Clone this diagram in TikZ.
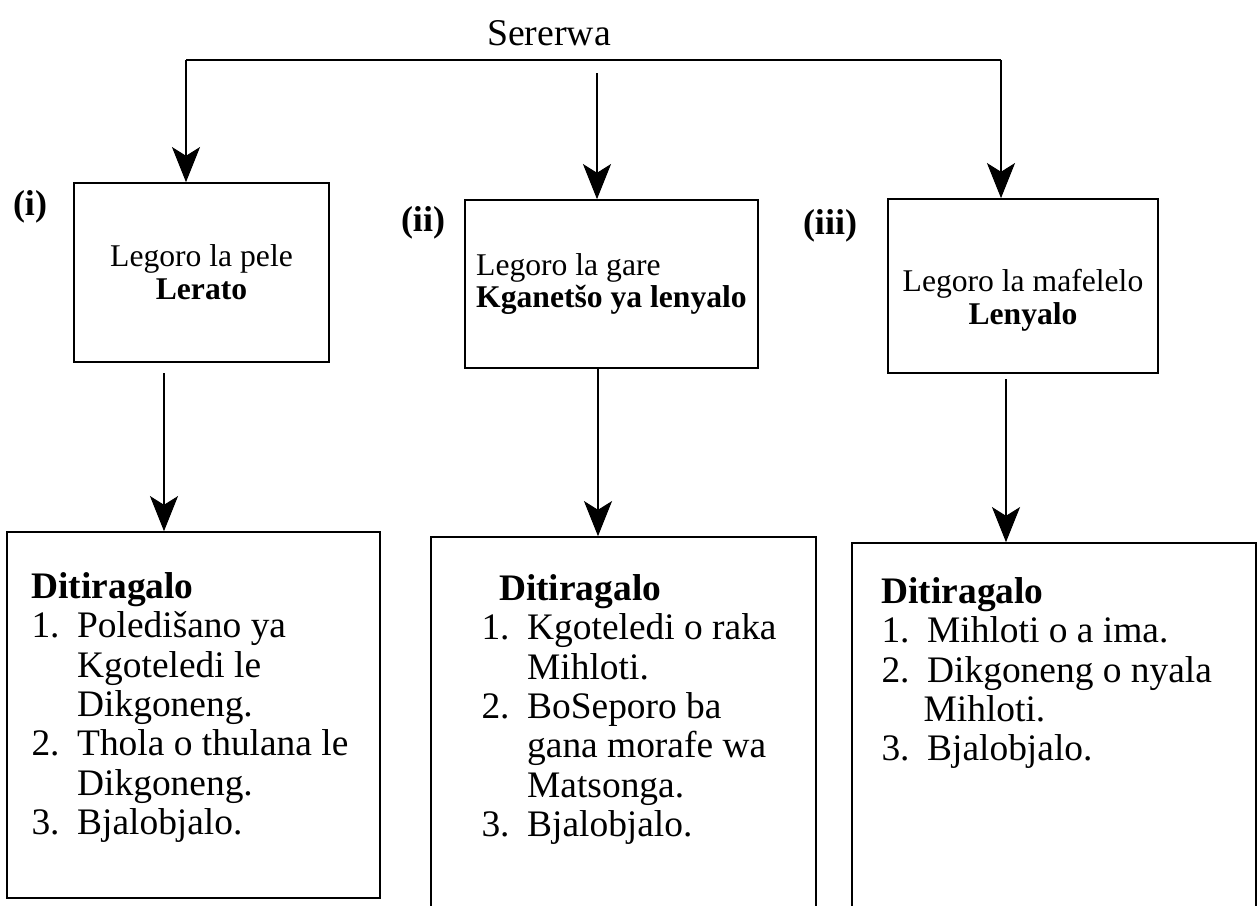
\documentclass[tikz,border=0pt]{standalone}
\usepackage{fontspec}
\setmainfont{Liberation Serif}
\usetikzlibrary{positioning,arrows.meta}

\newcommand\dnum[2]{\makebox[26pt][l]{#1}#2}
\newcommand\dcont[2][26pt]{\hspace*{#1}#2}

\begin{document}
\begin{tikzpicture}[
      x=0.02cm, y=-0.02cm,
      >={Stealth[length=20pt,width=16pt,inset=5pt]},
      legoro/.style={draw,line width=1pt,inner sep=0pt,font=\fontsize{18}{18.7}\selectfont},
      ditiragalo/.style={draw,line width=1pt,inner sep=0pt},
      dlist/.style={align=left,inner sep=0pt,anchor=north west,font=\fontsize{21.3}{22.4}\selectfont},
      tag/.style={font=\bfseries\fontsize{20.5}{22}\selectfont},
      arr/.style={->,line width=0.6pt},
      bar/.style={line width=1.2pt},
      ]
      \useasboundingbox (0,0) rectangle (1258,906);
      \clip (0,0) rectangle (1258,906);
      \node[anchor=base,font=\fontsize{21.5}{23}\selectfont] (sererwa) at (549,45) {Sererwa};
      \node[legoro,align=center,minimum width=5.1cm,minimum height=3.58cm] (legoroA) at (201.5,272.5)
        {Legoro la pele\\\textbf{Lerato}};
      \node[legoro,align=left,minimum width=5.86cm,minimum height=3.36cm] (legoroB) at (611.5,284)
        {Legoro la gare\\\textbf{Kganetšo ya lenyalo}};
      % third box: text sits a little low
      \node[legoro,minimum width=5.4cm,minimum height=3.48cm] (legoroC) at (1023,286) {};
      \node[align=center,inner sep=0pt,font=\fontsize{18}{18.7}\selectfont] (legoroCtext)
        at ([yshift=-8pt]legoroC.center) {Legoro la mafelelo\\\textbf{Lenyalo}};
      \node[tag] (tagA) at (30,207) {(i)};
      \node[tag] (tagB) at (423,223) {(ii)};
      \node[tag] (tagC) at (830,226) {(iii)};
      \node[ditiragalo,minimum width=7.46cm,minimum height=7.32cm] (ditiragaloA) at (193.5,715) {};
      \node[ditiragalo,minimum width=7.7cm,minimum height=7.76cm] (ditiragaloB) at (623.5,731) {};
      \node[ditiragalo,minimum width=8.08cm,minimum height=7.64cm] (ditiragaloC) at (1054,734) {};
      \node[dlist] (listA) at ([shift={(25,41)}]ditiragaloA.north west)
        {\textbf{Ditiragalo}\\
         \dnum{1.}{Poledišano ya}\\
         \dcont{Kgoteledi le}\\
         \dcont{Dikgoneng.}\\
         \dnum{2.}{Thola o thulana le}\\
         \dcont{Dikgoneng.}\\
         \dnum{3.}{Bjalobjalo.}};
      \node[dlist] (listB) at ([shift={(51,38)}]ditiragaloB.north west)
        {\dcont[10pt]{\textbf{Ditiragalo}}\\
         \dnum{1.}{Kgoteledi o raka}\\
         \dcont{Mihloti.}\\
         \dnum{2.}{BoSeporo ba}\\
         \dcont{gana morafe wa}\\
         \dcont{Matsonga.}\\
         \dnum{3.}{Bjalobjalo.}};
      \node[dlist] (listC) at ([shift={(30,35)}]ditiragaloC.north west)
        {\textbf{Ditiragalo}\\
         \dnum{1.}{Mihloti o a ima.}\\
         \dnum{2.}{Dikgoneng o nyala}\\
         \dcont[24pt]{Mihloti.}\\
         \dnum{3.}{Bjalobjalo.}};
      \coordinate (barL) at (186,60);
      \coordinate (barR) at (1001,60);
      \coordinate (midtop) at (597,73);
      \coordinate (dropA) at (164,373);
      \coordinate (dropB) at (598,368);
      \coordinate (dropC) at (1006,379);
      \draw[bar] (barL) -- (barR);
      \draw[arr] (barL) -- (barL |- legoroA.north);
      \draw[arr] (midtop) -- (midtop |- legoroB.north);
      \draw[arr] (barR) -- (barR |- legoroC.north);
      \draw[arr] (dropA) -- (dropA |- ditiragaloA.north);
      \draw[arr] (dropB) -- (dropB |- ditiragaloB.north);
      \draw[arr] (dropC) -- (dropC |- ditiragaloC.north);
    \end{tikzpicture}
\end{document}
